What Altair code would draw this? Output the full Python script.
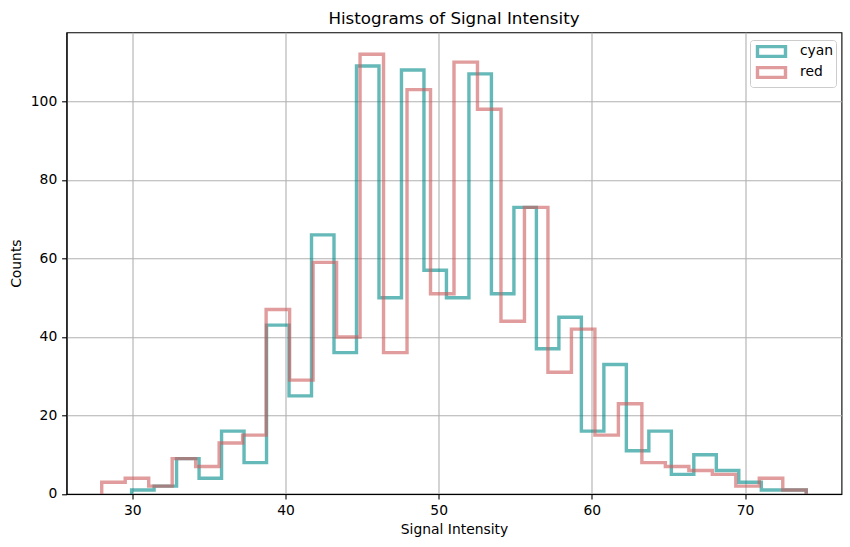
import altair as alt
import numpy as np
import pandas as pd

# Histogram counts per bin (30 equal-width bins per series)
series_names = ["cyan", "red"]
cyan_counts = [1, 2, 9, 4, 16, 8, 43, 25, 66, 36,
               109, 50, 108, 57, 50, 107, 51, 73, 37, 45,
               16, 33, 11, 16, 5, 10, 6, 3, 1, 1]
red_counts = [3, 4, 2, 9, 7, 13, 15, 47, 29, 59,
              40, 112, 36, 103, 51, 110, 98, 44, 73, 31,
              42, 15, 23, 8, 7, 6, 5, 2, 4, 1]
# Data range (min, max) that each series' bins span
cyan_range = [29.95, 74.0]
red_range = [28.0, 74.0]

x_ticks = [30, 40, 50, 60, 70]
y_ticks = [0, 20, 40, 60, 80, 100]


def step_outline(name, counts, bounds):
    """Vertices of an unfilled step histogram outline."""
    edges = np.linspace(bounds[0], bounds[1], len(counts) + 1)
    xs = [edges[0]]
    ys = [0]
    for i, c in enumerate(counts):
        xs += [edges[i], edges[i + 1]]
        ys += [c, c]
    xs.append(edges[-1])
    ys.append(0)
    return pd.DataFrame({"series": name, "x": xs, "count": ys,
                         "order": range(len(xs))})


df = pd.concat([
    step_outline("cyan", cyan_counts, cyan_range),
    step_outline("red", red_counts, red_range),
], ignore_index=True)

font = "DejaVu Sans"

chart = alt.Chart(df, title=alt.TitleParams(
    "Histograms of Signal Intensity", fontSize=16.7, font=font,
    fontWeight="normal", color="black", anchor="middle",
    frame="group", offset=5,
)).mark_line(strokeWidth=3.4, opacity=0.6).encode(
    x=alt.X("x:Q", title="Signal Intensity",
            scale=alt.Scale(domain=[25.7, 76.3], nice=False, zero=False),
            axis=alt.Axis(values=x_ticks, format="d", titlePadding=5)),
    y=alt.Y("count:Q", title="Counts",
            scale=alt.Scale(domain=[0, 117.6], nice=False),
            axis=alt.Axis(values=y_ticks, format="d", titlePadding=7)),
    color=alt.Color("series:N",
                    scale=alt.Scale(domain=series_names,
                                    range=["darkcyan", "indianred"]),
                    legend=alt.Legend(
                        title=None, orient="none",
                        legendX=683.5, legendY=7.7,
                        symbolType="M-0.571,-0.7L3.429,-0.7L3.429,0.7L-0.571,0.7Z",
                        symbolSize=196, symbolStrokeWidth=3.4,
                        symbolFillColor="transparent", symbolOpacity=0.6,
                        labelFont=font, labelFontSize=13.9, labelColor="black",
                        labelOffset=29.5, padding=2.5, rowPadding=-3,
                        fillColor="white", strokeColor="#cccccc",
                        cornerRadius=3,
                    )),
    order="order:Q",
).properties(
    width=775, height=461.7,
    autosize=alt.AutoSizeParams(type="none"),
    padding={"left": 66.5, "top": 32.3, "right": 8.5, "bottom": 52.7},
    background="white",
).configure_view(
    stroke="black", strokeWidth=1.1,
).configure_axis(
    labelFont=font, labelFontSize=13.9, labelColor="black",
    titleFont=font, titleFontSize=13.9, titleFontWeight="normal",
    titleColor="black",
    domainColor="black", domainWidth=1.1,
    tickColor="black", tickWidth=1.1, tickSize=4.9, labelPadding=4.9,
    grid=True, gridColor="#b0b0b0", gridWidth=1.1, gridOpacity=1,
)

chart.save("out.html", embed_options={"renderer": "svg", "actions": False})
